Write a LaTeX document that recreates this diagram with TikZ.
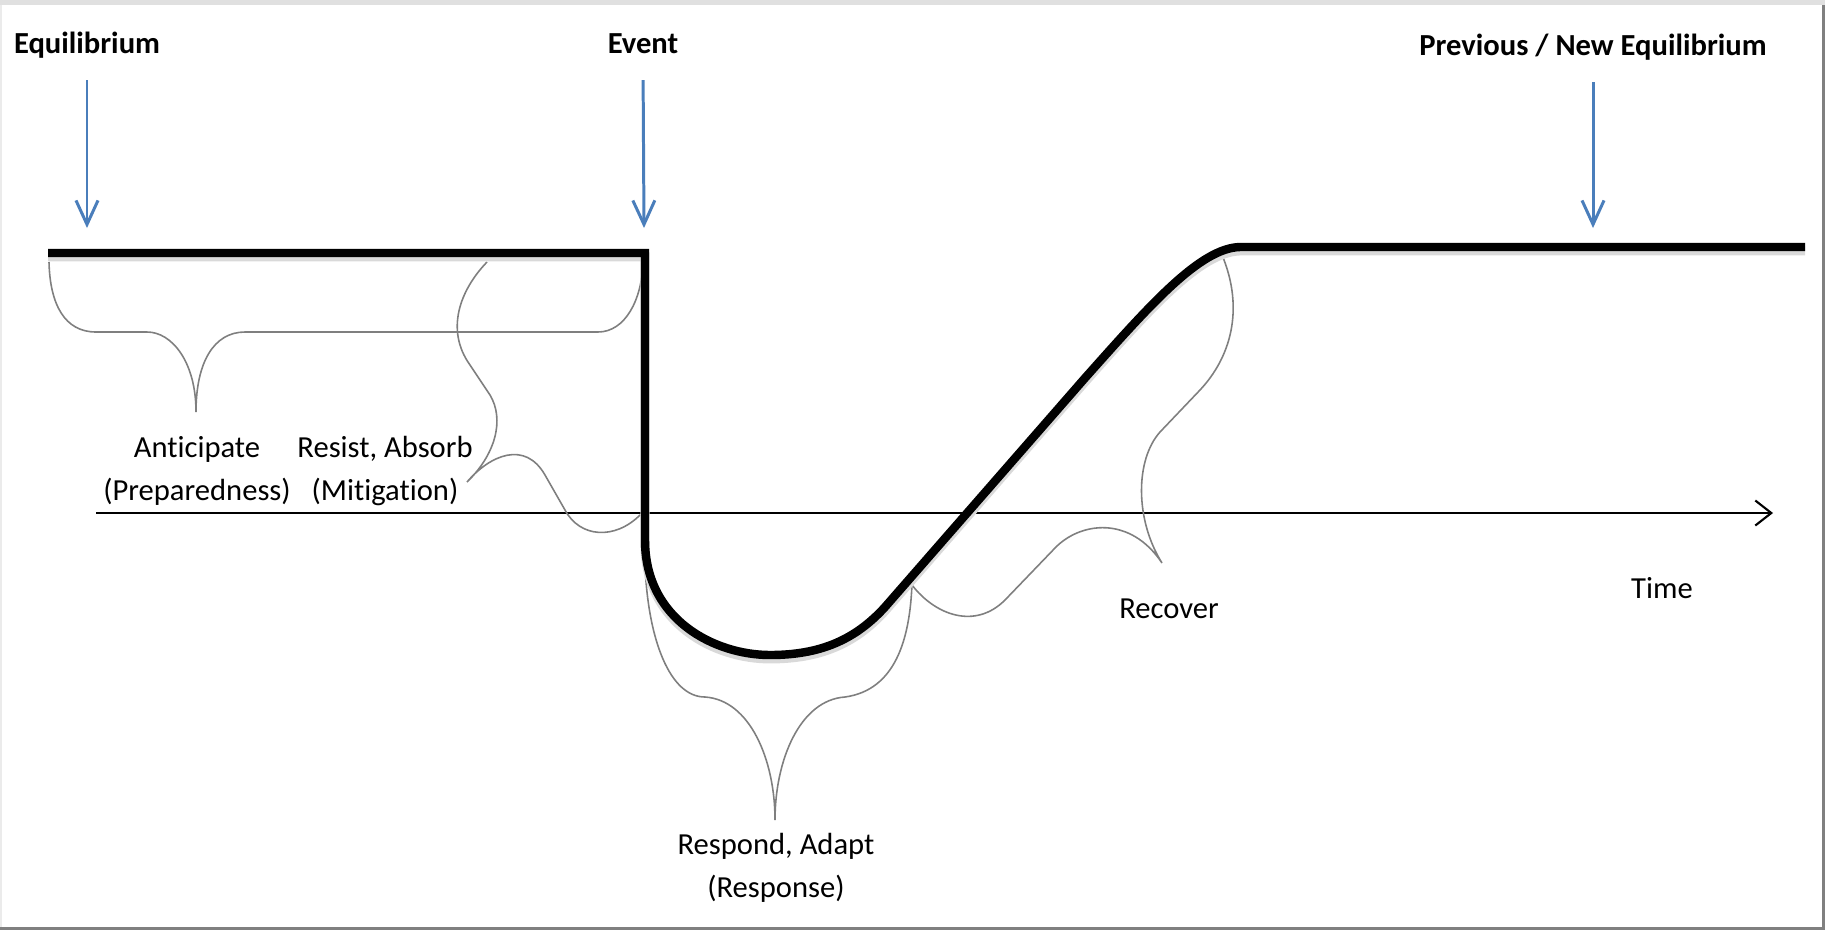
\documentclass[tikz,border=0pt]{standalone}
\usepackage{fontspec}
\setmainfont{Carlito}[Ligatures=NoCommon]
\usetikzlibrary{arrows.meta}
\definecolor{cueblue}{HTML}{4A7EBB}
\definecolor{bracegray}{HTML}{7F7F7F}

\begin{document}
\begin{tikzpicture}[x=0.01cm, y=-0.01cm,
    txt/.style = {font=\fontsize{8.7}{12}\selectfont, inner sep=0pt, align=center},
    head/.style = {txt, font=\fontsize{8.7}{12}\selectfont\bfseries, text height=1.4ex, text depth=0.5ex},
    cue/.style = {draw=cueblue, line width=0.85pt, shorten <=1.8mm, -{Straight Barb[length=2.4mm,width=2.2mm]}},
    curve/.style = {draw, line width=2.4pt, preaction={draw=black!15, line width=2.6pt, transform canvas={yshift=-1.1pt}}},
    brace/.style = {draw=bracegray, line width=0.45pt},
    axis/.style = {draw, line width=0.6pt, -{Straight Barb[length=1.6mm,width=2.5mm]}}]
    \useasboundingbox (0,0) rectangle (1825,930);
    % frame
    \fill[black!12] (0,0) rectangle (1825,5);
    \draw[black!8, line width=0.6pt] (1,5) -- (1,930);
    \draw[black!50, line width=0.6pt] (1823.5,5) -- (1823.5,928.5) -- (0,928.5);

    % headings and arrows
    \node[head, anchor=base] (equil) at (87,53) {Equilibrium};
    \node[head, anchor=base] (event) at (643,53) {Event};
    \node[head, anchor=base] (neweq) at (1593,55) {Previous / New Equilibrium};
    \coordinate (equilTip) at (87,228);
    \coordinate (eventTip) at (644,228);
    \coordinate (neweqTip) at (1593,228);
    \draw[cue] (equil.south) -- (equilTip);
    \draw[cue] (event.south) -- (eventTip);
    \draw[cue] (neweq.south) -- (neweqTip);

    % time axis
    \coordinate (o) at (96,513);
    \coordinate (tEnd) at (1773,513);
    \draw[axis] (o) -- (tEnd);

    % braces
    \draw[brace] (49,262) .. controls (50,305) and (65,332) .. (96,332) -- (147,332)
        .. controls (172,332) and (196,362) .. (196,412)
        .. controls (196,362) and (214,332) .. (245,332) -- (598,332)
        .. controls (625,332) and (642,300) .. (643,262);
    \draw[brace] (487,262) .. controls (460,290) and (445,330) .. (470,365) -- (490,395)
        .. controls (505,420) and (495,455) .. (467,482)
        .. controls (490,455) and (525,440) .. (545,475) -- (565,510)
        .. controls (580,538) and (615,540) .. (640,515);
    \draw[brace] (645,565) .. controls (648,640) and (670,697) .. (705,697)
        .. controls (750,700) and (775,760) .. (775,820)
        .. controls (775,760) and (800,700) .. (845,697)
        .. controls (895,690) and (910,640) .. (912,583);
    \draw[brace] (912,585) .. controls (935,615) and (975,630) .. (1005,600) -- (1055,548)
        .. controls (1080,522) and (1130,515) .. (1162,563)
        .. controls (1135,520) and (1135,460) .. (1160,432) -- (1200,390)
        .. controls (1230,358) and (1245,310) .. (1222,255);

    % the curve
    \draw[curve] (48,253) -- (645,253) -- (645,540)
        .. controls (645,620) and (715,655) .. (770,655)
        .. controls (820,655) and (855,640) .. (885,607) -- (1085,378)
        .. controls (1150,305) and (1200,248) .. (1240,247) -- (1805,247);

    % phase labels
    \node[txt, anchor=base] (antic) at (197,500) {Anticipate\\(Preparedness)};
    \node[txt, anchor=base] (resist) at (385,500) {Resist, Absorb\\(Mitigation)};
    \node[txt, anchor=base] (respond) at (776,897) {Respond, Adapt\\(Response)};
    \node[txt, anchor=base] (recov) at (1169,618) {Recover};
    \node[txt, anchor=base] (time) at (1662,598) {Time};
\end{tikzpicture}
\end{document}
